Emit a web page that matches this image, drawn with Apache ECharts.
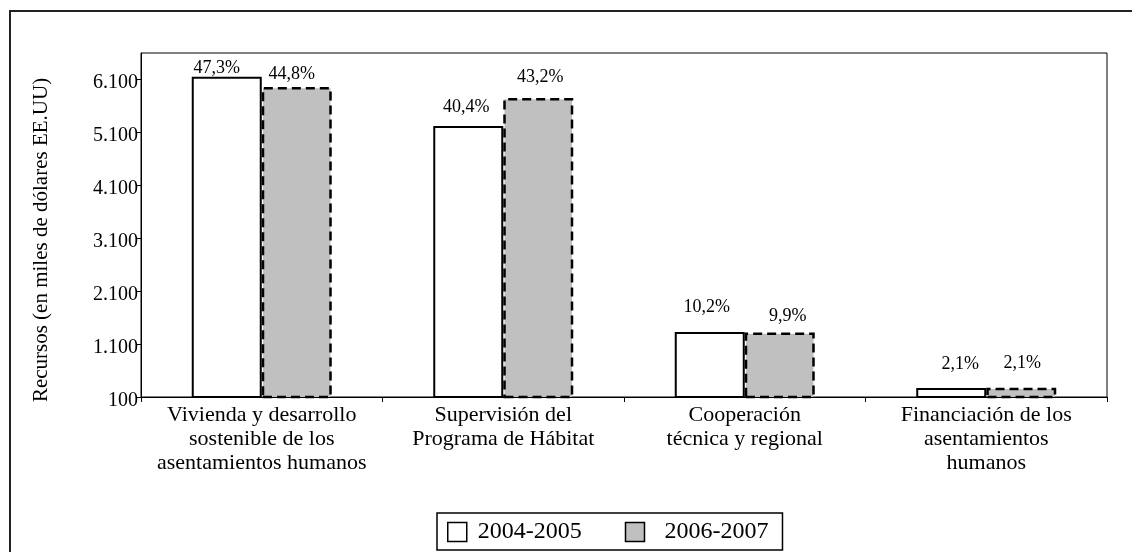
<!DOCTYPE html>
<html>
<head>
<meta charset="utf-8">
<script src="https://cdn.jsdelivr.net/npm/echarts@6/dist/echarts.min.js"></script>
<style>
  html, body { margin: 0; padding: 0; background: #fff; }
  #main { width: 1132px; height: 552px; }
</style>
</head>
<body>
<div id="main"></div>
<script>
  var categories = [
    'Vivienda y desarrollo\nsostenible de los\nasentamientos humanos',
    'Supervisión del\nPrograma de Hábitat',
    'Cooperación\ntécnica y regional',
    'Financiación de los\nasentamientos\nhumanos'
  ];
  var seriesNames = ['2004-2005', '2006-2007'];
  var values2004 = [6140, 5215, 1325, 272];
  var values2006 = [5950, 5740, 1315, 275];
  var pct2004 = ['47,3%', '40,4%', '10,2%', '2,1%'];
  var pct2006 = ['44,8%', '43,2%', '9,9%', '2,1%'];

  var serif = '"Liberation Serif", "DejaVu Serif", serif';

  // label distance / offset per bar
  var lab2004 = [[0, -10], [10, -2], [16, -3], [15, 9]];
  var lab2006 = [[4, -5], [12, 2], [7, 8], [15, 1]];

  function mkData(vals, pcts, labs) {
    return vals.map(function (v, i) {
      return {
        value: v,
        label: {
          formatter: pcts[i],
          distance: labs[i][0],
          offset: [labs[i][1], 0]
        }
      };
    });
  }

  function fmtNum(v) {
    return String(v).replace(/\B(?=(\d{3})+(?!\d))/g, '.');
  }

  var chart = echarts.init(document.getElementById('main'));

  var labelBase = {
    show: true,
    position: 'top',
    color: '#000',
    fontFamily: serif,
    fontSize: 18
  };

  var option = {
    animation: false,
    backgroundColor: '#fff',
    graphic: [{
      type: 'rect',
      shape: { x: 10, y: 11, width: 1200, height: 600 },
      style: { fill: 'none', stroke: '#222', lineWidth: 2 },
      silent: true
    }],
    grid: {
      left: 141,
      right: 25,
      top: 53,
      bottom: 155,
      show: true,
      borderColor: '#000',
      borderWidth: 1
    },
    legend: {
      data: [
        {
          name: seriesNames[0],
          itemStyle: { borderType: 'solid', borderWidth: 1.5 },
          textStyle: { padding: [0, 0, 0, 6] }
        },
        {
          name: seriesNames[1],
          itemStyle: { borderType: 'solid', borderWidth: 1.5 },
          textStyle: { padding: [0, 0, 0, 15] }
        }
      ],
      left: 437,
      top: 513,
      icon: 'rect',
      itemWidth: 19,
      itemHeight: 19,
      itemGap: 43,
      padding: [7, 14, 6, 10],
      borderColor: '#000',
      borderWidth: 1.5,
      textStyle: { color: '#000', fontFamily: serif, fontSize: 24 }
    },
    xAxis: {
      type: 'category',
      data: categories,
      axisLine: { lineStyle: { color: '#000', width: 1 } },
      axisTick: { show: true, length: 5, lineStyle: { color: '#000' } },
      axisLabel: {
        color: '#000',
        fontFamily: serif,
        fontSize: 22,
        lineHeight: 24,
        margin: 6,
        interval: 0
      }
    },
    yAxis: {
      type: 'value',
      min: 100,
      max: 6590,
      interval: 1000,
      name: 'Recursos (en miles de dólares EE.UU)',
      nameLocation: 'middle',
      nameGap: 89,
      nameTextStyle: {
        color: '#000',
        fontFamily: serif,
        fontSize: 21,
        padding: [0, 30, 0, 0]
      },
      splitLine: { show: false },
      axisLine: { show: true, lineStyle: { color: '#000', width: 1 } },
      axisTick: { show: true, length: 5, lineStyle: { color: '#000' } },
      axisLabel: {
        color: '#000',
        fontFamily: serif,
        fontSize: 20,
        margin: 3,
        verticalAlign: 'top',
        lineHeight: 8,
        showMaxLabel: false,
        formatter: function (v) { return fmtNum(v); }
      }
    },
    series: [
      {
        name: seriesNames[0],
        type: 'bar',
        barWidth: 70,
        barGap: '0%',
        itemStyle: { color: '#fff', borderColor: '#000', borderWidth: 2 },
        label: labelBase,
        data: mkData(values2004, pct2004, lab2004)
      },
      {
        name: seriesNames[1],
        type: 'bar',
        barWidth: 70,
        barGap: '0%',
        itemStyle: {
          color: '#c0c0c0',
          borderColor: '#000',
          borderWidth: 2.5,
          borderType: [9, 5]
        },
        label: labelBase,
        data: mkData(values2006, pct2006, lab2006)
      }
    ]
  };

  option && chart.setOption(option);
</script>
</body>
</html>
